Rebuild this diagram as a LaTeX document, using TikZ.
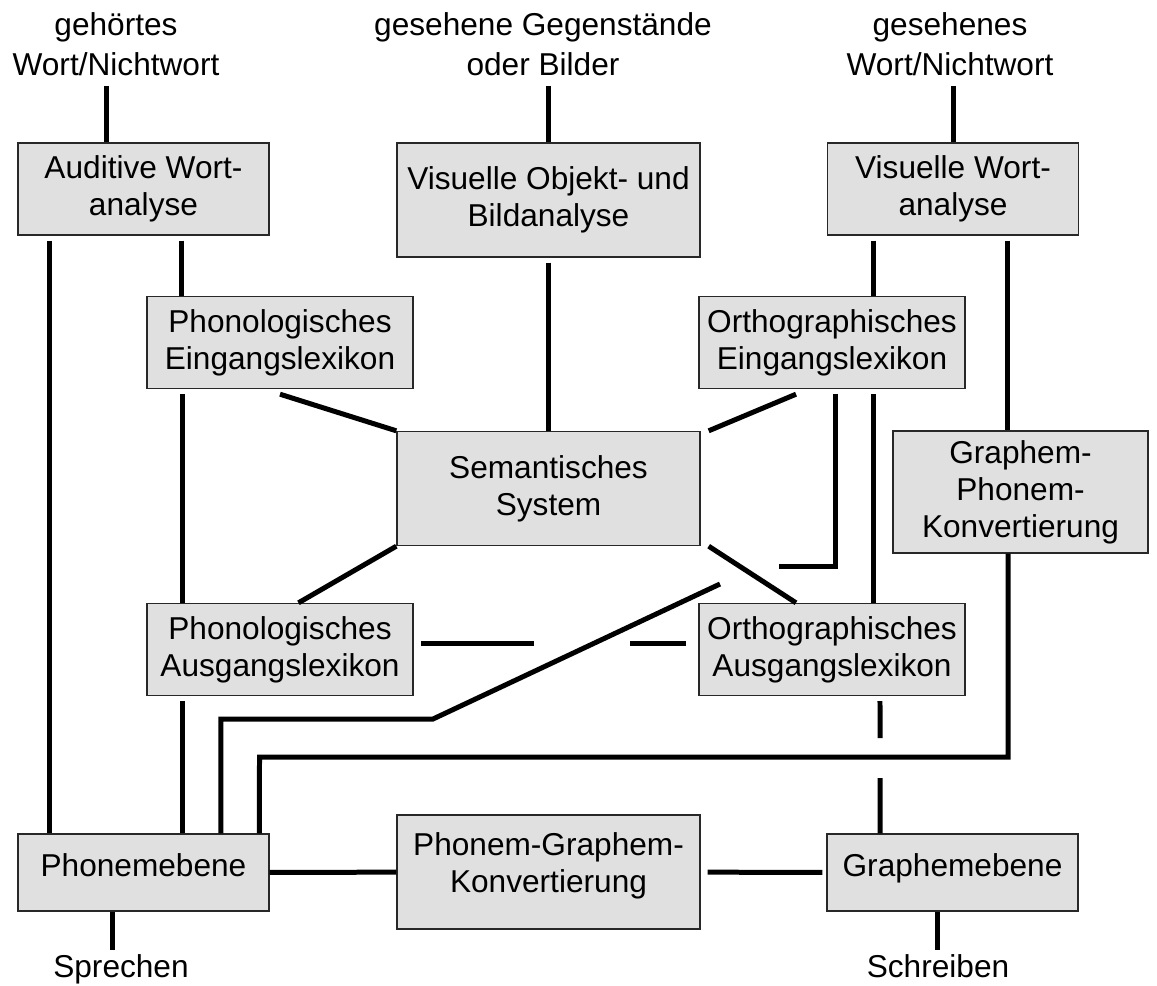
\documentclass[tikz,border=0pt]{standalone}
\usepackage{fontspec}
\setmainfont{Liberation Sans}
\usepackage{tikz}
\usepackage{xcolor}
\definecolor{boxgray}{RGB}{224,224,224}
\definecolor{boxline}{RGB}{40,40,40}
\tikzstyle{box} = [rectangle, draw=boxline, line width=0.8pt, fill=boxgray, align=center, inner sep=0pt, font=\fontsize{18}{21}\selectfont]
\tikzstyle{smallbox} = [box, minimum width=5.02cm, minimum height=1.84cm]
\tikzstyle{lexbox} = [box, minimum width=5.32cm, minimum height=1.84cm]
\tikzstyle{widebox} = [box, minimum width=6.06cm, minimum height=2.28cm]
\tikzstyle{levelbox} = [box, minimum width=5.02cm, minimum height=1.54cm, text depth=0.3cm]
\tikzstyle{io} = [align=center, inner sep=0pt, outer ysep=0.1cm, font=\fontsize{18}{22.5}\selectfont]
\tikzstyle{link} = [line width=0.1cm]
\tikzstyle{gap} = [shorten <=0.1cm]

\begin{document}
\begin{tikzpicture}[x=0.02cm, y=-0.02cm]
\useasboundingbox (0,0) rectangle (1157,985);

% Inputs and outputs
\node[io, anchor=north] (hear) at (116,8) {gehörtes\\Wort/Nichtwort};
\node[io, anchor=north] (seeobj) at (543,8) {gesehene Gegenstände\\oder Bilder};
\node[io, anchor=north] (seeword) at (950,8) {gesehenes\\Wort/Nichtwort};
\node[io, anchor=north] (speak) at (121,950) {Sprechen};
\node[io, anchor=north] (write) at (938,950) {Schreiben};

% Nodes
\node[smallbox] (audit) at (143.5,189) {Auditive Wort-\\analyse};
\node[widebox] (visobj) at (548.5,200) {Visuelle Objekt- und\\Bildanalyse};
\node[smallbox] (visword) at (953,189) {Visuelle Wort-\\analyse};
\node[lexbox] (phonin) at (280,342.5) {Phonologisches\\Eingangslexikon};
\node[lexbox] (orthin) at (832,342.5) {Orthographisches\\Eingangslexikon};
\node[widebox] (sem) at (548.5,488.5) {Semantisches\\System};
\node[box, minimum width=5.1cm, minimum height=2.44cm] (gpk) at (1020.5,492) {Graphem-\\Phonem-\\Konvertierung};
\node[lexbox] (phonout) at (280,649.5) {Phonologisches\\Ausgangslexikon};
\node[lexbox] (orthout) at (832,649.5) {Orthographisches\\Ausgangslexikon};
\node[levelbox] (phonlev) at (143.5,872.5) {Phonemebene};
\node[widebox, text depth=0.38cm] (pgk) at (548.5,872) {Phonem-Graphem-\\Konvertierung};
\node[levelbox] (graphlev) at (952.5,872.5) {Graphemebene};

% Loose ends where lines cross
\coordinate (hookend) at (779,566);
\coordinate (diagstart) at (720,584);
\coordinate (diagbend) at (433,719);
\coordinate (crossL) at (534,643);
\coordinate (crossR) at (630,643);
\coordinate (gapT) at (880,738);
\coordinate (gapB) at (880,778);
\coordinate (gpkbus) at (259.5,757);

% Lines
\draw[link, gap] ([xshift=-0.75cm]audit.north |- hear.south) -- ([xshift=-0.75cm]audit.north);
\draw[link, gap] (visobj.north |- seeobj.south) -- (visobj.north);
\draw[link, gap] (visword.north |- seeword.south) -- (visword.north);
\draw[link, gap] ([xshift=-1.89cm]audit.south) -- ([xshift=-1.89cm]phonlev.north);
\draw[link, gap] ([xshift=0.77cm]audit.south) -- ([xshift=0.77cm]audit.south |- phonin.north);
\draw[link, gap] (visobj.south) -- (sem.north);
\draw[link, gap] ([xshift=-1.6cm]visword.south) -- ([xshift=-1.6cm]visword.south |- orthin.north);
\draw[link, gap] ([xshift=1.1cm]visword.south) -- ([xshift=1.1cm]visword.south |- gpk.north);
\draw[link, gap] ([xshift=-1.96cm]phonin.south) -- ([xshift=-1.96cm]phonin.south |- phonout.north);
\draw[link] ([yshift=-0.1cm]phonin.south) -- (sem.north west);
\draw[link] (sem.south west) -- ([xshift=0.37cm]phonout.north);
\draw[link] ([xshift=-0.72cm,yshift=-0.1cm]orthin.south) -- ([xshift=0.16cm]sem.north east);
\draw[link] ([xshift=0.16cm]sem.south east) -- ([xshift=-0.72cm]orthout.north);
\draw[link] ([xshift=0.06cm,yshift=-0.1cm]orthin.south) |- (hookend);
\draw[link] (diagstart) -- (diagbend) -| ([xshift=1.55cm]phonlev.north);
\draw[link, gap] ([xshift=0.84cm]orthin.south) -- ([xshift=0.84cm]orthin.south |- orthout.north);
\draw[link, shorten <=0.15cm] (phonout.east |- crossL) -- (crossL);
\draw[link, shorten >=0.24cm] (crossR) -- (orthout.west |- crossR);
\draw[link, gap] ([xshift=-1.96cm]phonout.south) -- ([xshift=-1.96cm]phonout.south |- phonlev.north);
\draw[link] ([xshift=-0.25cm]gpk.south) |- (gpkbus) -- ([xshift=2.32cm]phonlev.north);
\draw[link, gap] ([xshift=0.96cm]orthout.south) -- (gapT);
\draw[link] (gapB) -- ([xshift=-1.45cm]graphlev.north);
\draw[link] (phonlev) -- (pgk);
\draw[link, shorten <=0.14cm, shorten >=0.08cm] (pgk) -- (graphlev);
\draw[link] ([xshift=-0.63cm]phonlev.south) -- ([xshift=-0.63cm]phonlev.south |- speak.north);
\draw[link] ([xshift=-0.31cm]graphlev.south) -- ([xshift=-0.31cm]graphlev.south |- write.north);

\end{tikzpicture}
\end{document}
